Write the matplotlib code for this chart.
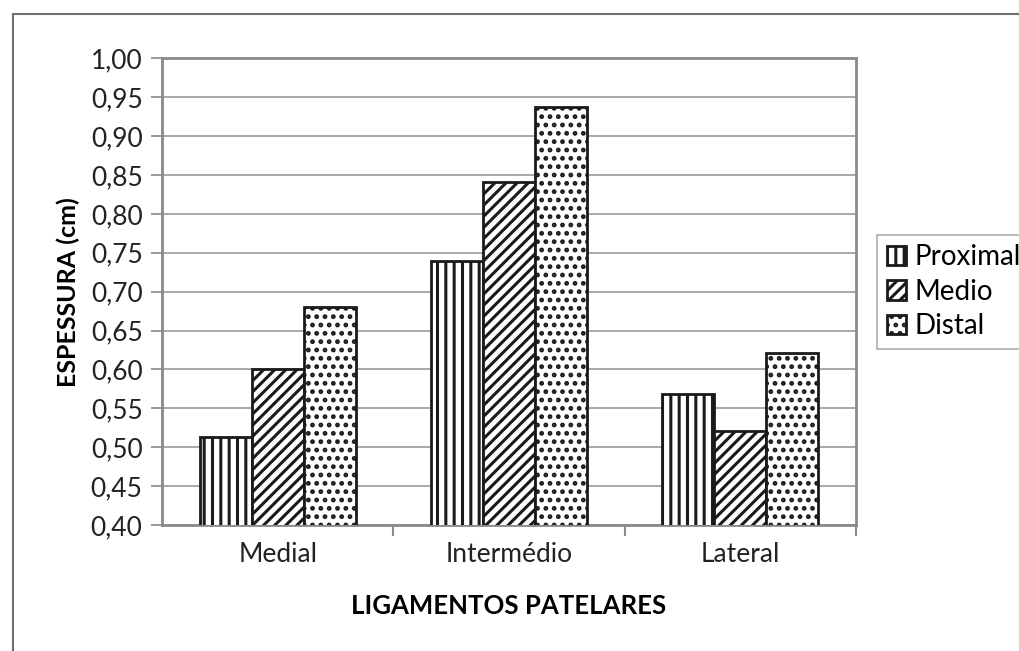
import numpy as np
import matplotlib
matplotlib.use("Agg")
import matplotlib.pyplot as plt
from matplotlib.patches import Rectangle

plt.rcParams['font.family'] = ['Lato', 'DejaVu Sans']
plt.rcParams['hatch.linewidth'] = 2.2

categories = ['Medial', 'Intermédio', 'Lateral']
series = ['Proximal', 'Medio', 'Distal']
proximal = [0.513, 0.739, 0.568]
medio = [0.600, 0.841, 0.521]
distal = [0.680, 0.937, 0.621]
hatches = ['||', '///', '..']
yticks = [0.40, 0.45, 0.50, 0.55, 0.60, 0.65, 0.70, 0.75, 0.80, 0.85, 0.90, 0.95, 1.00]

fig = plt.figure(figsize=(10.19, 6.51), dpi=100)
ax = fig.add_axes([0.159, 0.1935, 0.681, 0.717])

# outer frame of the figure (only left/top visible)
fig.patches.append(Rectangle((0.013, -0.1), 1.2, 0.1 + 0.978, transform=fig.transFigure,
                             fill=False, edgecolor='#6e6e6e', linewidth=1.5))

x = np.arange(len(categories))
w = 0.225
for i, (vals, h, name) in enumerate(zip([proximal, medio, distal], hatches, series)):
    ax.bar(x + (i - 1) * w, vals, w, bottom=0, color='white', edgecolor='#1a1a1a',
           hatch=h, linewidth=2.0, label=name, zorder=3)

ax.set_ylim(0.40, 1.00)
ax.set_xlim(-0.5, 2.5)
ax.set_yticks(yticks)
ax.set_yticklabels([f'{v:.2f}'.replace('.', ',') for v in yticks], fontsize=19, color='#222222')
ax.set_xticks(x)
ax.set_xticklabels(categories, fontsize=19, color='#222222')
ax.set_xticks([0.5, 1.5, 2.5], minor=True)
ax.tick_params(axis='x', which='major', length=0, pad=12)
ax.tick_params(axis='x', which='minor', length=8, color='#8a8a8a', width=1.5)
ax.tick_params(axis='y', length=8, color='#8a8a8a', width=1.2, pad=6)

ax.grid(axis='y', color='#9a9a9a', linewidth=1.2, zorder=0)
ax.set_axisbelow(True)
for s in ax.spines.values():
    s.set_color('#8a8a8a')
    s.set_linewidth(2)

ax.set_ylabel('ESPESSURA (cm)', fontsize=18, fontweight='bold', labelpad=8)
ax.set_xlabel('LIGAMENTOS PATELARES', fontsize=18.5, fontweight='bold', labelpad=20)

leg = ax.legend(loc='center left', bbox_to_anchor=(1.03, 0.5), fontsize=20,
                frameon=True, fancybox=False, handlelength=0.7, handleheight=0.7,
                handletextpad=0.3, borderpad=0.35, labelspacing=0.3, borderaxespad=0)
leg.get_frame().set_edgecolor('#9a9a9a')
leg.get_frame().set_linewidth(1.2)

fig.savefig('out.png', dpi=100)
